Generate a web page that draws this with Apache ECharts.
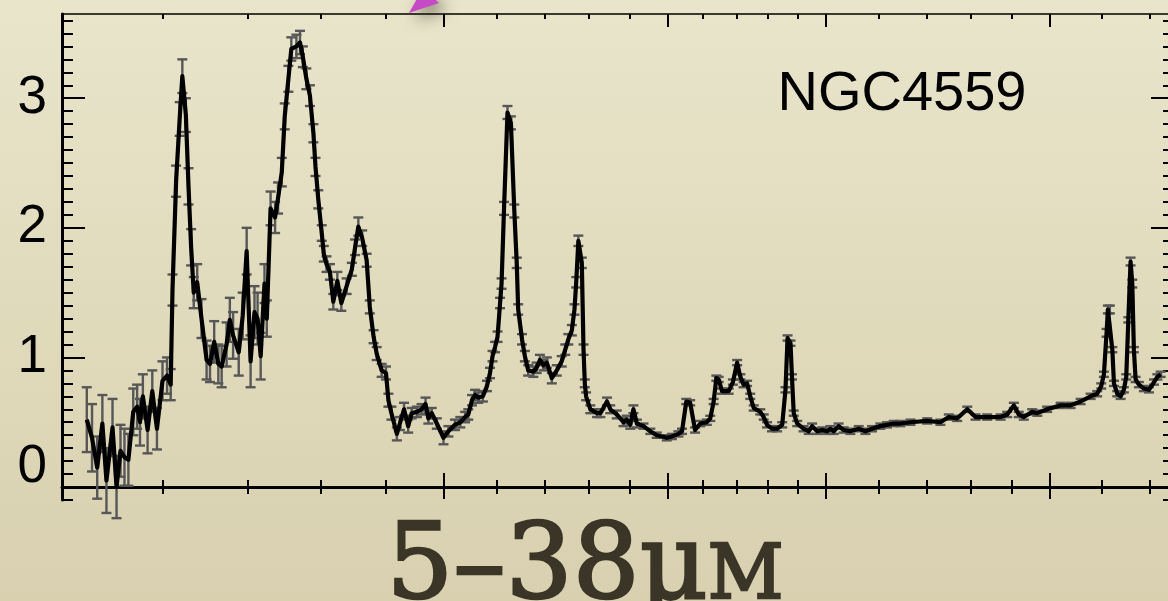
<!DOCTYPE html>
<html>
<head>
<meta charset="utf-8">
<script src="https://cdn.jsdelivr.net/npm/echarts@6/dist/echarts.min.js"></script>
<style>
  html, body { margin: 0; padding: 0; background: #e2ddc1; }
  #chart { width: 1168px; height: 601px; }
</style>
</head>
<body>
<div id="chart"></div>
<script>
// Mid-infrared spectrum of NGC4559 (wavelength in micron, flux in arbitrary units)
const wavelength = [
  5.23, 5.28, 5.33, 5.38, 5.42, 5.48, 5.52, 5.56, 5.60, 5.64,
  5.69, 5.73, 5.76, 5.79, 5.84, 5.89, 5.94, 6.00, 6.05, 6.09,
  6.11, 6.15, 6.19, 6.22, 6.26, 6.29, 6.32, 6.35, 6.39, 6.44,
  6.50, 6.54, 6.59, 6.64, 6.68, 6.74, 6.78, 6.82, 6.89, 6.94,
  6.99, 7.04, 7.09, 7.13, 7.17, 7.22, 7.25, 7.30, 7.36, 7.40,
  7.45, 7.49, 7.54, 7.58, 7.65, 7.70, 7.74, 7.79, 7.84, 7.89,
  7.92, 7.96, 8.01, 8.04, 8.08, 8.13, 8.18, 8.24, 8.30, 8.38,
  8.46, 8.51, 8.56, 8.62, 8.69, 8.74, 8.80, 8.85, 8.93, 9.00,
  9.04, 9.09, 9.18, 9.23, 9.30, 9.37, 9.43, 9.52, 9.60, 9.67,
  9.72, 9.78, 9.87, 9.99, 10.08, 10.20, 10.30, 10.39, 10.45, 10.52,
  10.58, 10.64, 10.73, 10.81, 10.87, 10.92, 10.97, 11.02, 11.07, 11.10,
  11.15, 11.22, 11.29, 11.36, 11.41, 11.44, 11.52, 11.58, 11.65, 11.76,
  11.83, 11.90, 11.98, 12.05, 12.16, 12.27, 12.38, 12.46, 12.53, 12.61,
  12.67, 12.71, 12.76, 12.84, 12.88, 12.91, 12.94, 13.04, 13.20, 13.28,
  13.44, 13.52, 13.68, 13.85, 13.93, 14.02, 14.10, 14.19, 14.36, 14.54,
  14.71, 14.98, 15.12, 15.30, 15.40, 15.52, 15.63, 15.77, 15.92, 16.11,
  16.21, 16.31, 16.39, 16.46, 16.56, 16.76, 16.89, 17.02, 17.12, 17.22,
  17.33, 17.43, 17.54, 17.75, 17.86, 17.97, 18.13, 18.30, 18.47, 18.58,
  18.65, 18.75, 18.80, 18.86, 18.98, 19.20, 19.38, 19.50, 19.68, 19.86,
  20.04, 20.16, 20.28, 20.46, 20.65, 20.90, 21.22, 21.48, 21.74, 22.07,
  22.34, 22.61, 22.89, 23.31, 24.03, 24.61, 24.99, 25.37, 25.84, 26.23,
  26.79, 27.45, 27.78, 28.12, 28.37, 28.63, 29.07, 29.34, 29.87, 30.61,
  31.17, 31.74, 32.32, 32.71, 32.95, 33.11, 33.27, 33.35, 33.47, 33.62,
  33.72, 33.92, 34.13, 34.33, 34.48, 34.61, 34.75, 34.86, 34.96, 35.07,
  35.28, 35.60, 35.93, 36.26, 36.48, 36.70
];

const flux = [
  0.52, 0.38, 0.15, 0.49, 0.05, 0.46, 0.00, 0.28, 0.23, 0.21,
  0.58, 0.62, 0.50, 0.70, 0.44, 0.74, 0.45, 0.82, 0.86, 0.79,
  1.52, 2.36, 2.84, 3.17, 2.87, 2.32, 1.85, 1.50, 1.58, 1.30,
  0.98, 0.95, 1.12, 0.95, 0.93, 1.10, 1.29, 1.17, 1.04, 1.32,
  1.82, 0.97, 1.35, 1.30, 1.01, 1.57, 1.30, 2.15, 2.08, 2.23,
  2.43, 2.86, 3.15, 3.38, 3.40, 3.43, 3.32, 3.15, 3.02, 2.73,
  2.47, 2.22, 1.96, 1.80, 1.72, 1.66, 1.43, 1.59, 1.42, 1.55,
  1.68, 1.85, 2.01, 1.92, 1.75, 1.39, 1.16, 1.03, 0.90, 0.88,
  0.67, 0.57, 0.41, 0.49, 0.60, 0.47, 0.57, 0.58, 0.60, 0.64,
  0.53, 0.57, 0.49, 0.38, 0.43, 0.48, 0.50, 0.54, 0.56, 0.67,
  0.71, 0.69, 0.70, 0.78, 0.88, 1.01, 1.08, 1.16, 1.42, 1.57,
  2.15, 2.89, 2.81, 2.13, 1.73, 1.37, 1.14, 1.01, 0.90, 0.89,
  0.92, 0.98, 0.94, 0.96, 0.84, 0.90, 0.97, 1.06, 1.14, 1.21,
  1.37, 1.58, 1.90, 1.73, 1.06, 0.80, 0.70, 0.60, 0.57, 0.57,
  0.66, 0.60, 0.56, 0.50, 0.52, 0.48, 0.60, 0.49, 0.47, 0.43,
  0.40, 0.38, 0.39, 0.41, 0.43, 0.66, 0.65, 0.44, 0.49, 0.50,
  0.53, 0.66, 0.84, 0.83, 0.74, 0.74, 0.81, 0.96, 0.85, 0.79,
  0.80, 0.70, 0.61, 0.58, 0.54, 0.48, 0.45, 0.45, 0.48, 0.75,
  1.15, 1.11, 0.85, 0.57, 0.49, 0.45, 0.43, 0.47, 0.43, 0.44,
  0.43, 0.45, 0.43, 0.47, 0.44, 0.43, 0.45, 0.43, 0.45, 0.47,
  0.48, 0.49, 0.49, 0.50, 0.51, 0.50, 0.54, 0.53, 0.60, 0.54,
  0.54, 0.54, 0.56, 0.63, 0.56, 0.54, 0.58, 0.57, 0.60, 0.63,
  0.63, 0.66, 0.70, 0.72, 0.78, 0.87, 1.19, 1.37, 1.37, 1.06,
  0.80, 0.72, 0.70, 0.75, 0.85, 1.29, 1.74, 1.57, 1.06, 0.83,
  0.79, 0.76, 0.75, 0.81, 0.85, 0.87
];

const fluxErr = [
  0.25, 0.26, 0.24, 0.22, 0.25, 0.22, 0.24, 0.20, 0.22, 0.20,
  0.18, 0.17, 0.18, 0.17, 0.18, 0.16, 0.16, 0.15, 0.14, 0.12,
  0.12, 0.12, 0.13, 0.13, 0.13, 0.14, 0.14, 0.12, 0.14, 0.15,
  0.15, 0.14, 0.16, 0.15, 0.16, 0.17, 0.17, 0.18, 0.18, 0.18,
  0.18, 0.20, 0.20, 0.20, 0.18, 0.15, 0.14, 0.13, 0.12, 0.12,
  0.11, 0.10, 0.10, 0.09, 0.09, 0.09, 0.08, 0.08, 0.08, 0.07,
  0.07, 0.07, 0.06, 0.06, 0.06, 0.06, 0.06, 0.07, 0.06, 0.06,
  0.05, 0.06, 0.07, 0.06, 0.05, 0.05, 0.05, 0.05, 0.05, 0.05,
  0.05, 0.05, 0.05, 0.05, 0.05, 0.05, 0.04, 0.04, 0.04, 0.05,
  0.04, 0.04, 0.04, 0.05, 0.04, 0.04, 0.04, 0.04, 0.04, 0.04,
  0.04, 0.04, 0.04, 0.04, 0.04, 0.04, 0.04, 0.04, 0.04, 0.04,
  0.05, 0.05, 0.05, 0.05, 0.04, 0.04, 0.04, 0.04, 0.04, 0.04,
  0.04, 0.04, 0.04, 0.04, 0.04, 0.04, 0.04, 0.04, 0.04, 0.04,
  0.04, 0.04, 0.04, 0.04, 0.04, 0.03, 0.03, 0.03, 0.03, 0.03,
  0.03, 0.03, 0.03, 0.03, 0.03, 0.03, 0.03, 0.03, 0.02, 0.02,
  0.02, 0.02, 0.02, 0.02, 0.02, 0.02, 0.02, 0.02, 0.02, 0.02,
  0.02, 0.02, 0.02, 0.02, 0.02, 0.02, 0.02, 0.02, 0.02, 0.02,
  0.02, 0.02, 0.02, 0.02, 0.02, 0.02, 0.02, 0.02, 0.02, 0.02,
  0.02, 0.02, 0.02, 0.02, 0.02, 0.02, 0.02, 0.02, 0.02, 0.02,
  0.02, 0.02, 0.02, 0.02, 0.02, 0.02, 0.02, 0.02, 0.02, 0.02,
  0.02, 0.02, 0.02, 0.02, 0.02, 0.02, 0.02, 0.02, 0.02, 0.02,
  0.02, 0.02, 0.02, 0.02, 0.02, 0.02, 0.02, 0.02, 0.02, 0.02,
  0.02, 0.02, 0.02, 0.02, 0.02, 0.02, 0.03, 0.03, 0.03, 0.02,
  0.02, 0.02, 0.02, 0.02, 0.02, 0.02, 0.03, 0.03, 0.02, 0.02,
  0.02, 0.02, 0.02, 0.02, 0.02, 0.02
];

// Wavelength tick marks (log axis) and flux tick labels
const xMajorTicks = [10, 15, 20, 30];
const xMinorTicks = [6, 7, 8, 9, 11, 12, 13, 14, 16, 17, 18, 19, 22, 24, 26, 28, 33, 36];
const yLabelValues = [0, 1, 2, 3];
const objectName = 'NGC4559';
const rangeTitle = ['5–38μ', 'm'];

const X_MIN = 5, X_MAX = 37.6;
const Y_MIN = -0.1, Y_MAX = 3.65;

// minor flux ticks every 0.1
const yMinorTicks = [];
for (let i = -1; i <= 36; i++) {
  if (i % 10 !== 0) yMinorTicks.push(+(i / 10).toFixed(1));
}

function xAxisDef(position, ticks, len, inside, showLine, lineWidth) {
  return {
    type: 'log', logBase: 10, min: X_MIN, max: X_MAX, position: position,
    axisLine: {
      show: showLine, onZero: position === 'bottom', onZeroAxisIndex: 0,
      lineStyle: { color: '#000', width: lineWidth }
    },
    axisTick: { show: true, inside: inside, length: len, customValues: ticks,
      lineStyle: { color: '#000', width: 2 } },
    axisLabel: { show: false },
    splitLine: { show: false },
    minorTick: { show: false },
    minorSplitLine: { show: false }
  };
}

function yAxisDef(position, ticks, len, showLine, withLabels) {
  return {
    type: 'value', min: Y_MIN, max: Y_MAX, position: position,
    axisLine: { show: showLine, onZero: false, lineStyle: { color: '#000', width: 3 } },
    axisTick: { show: true, inside: true, length: len, customValues: ticks,
      lineStyle: { color: '#000', width: 2 } },
    axisLabel: withLabels ? {
      show: true, customValues: yLabelValues, margin: 15,
      color: '#000', fontSize: 53, fontFamily: 'Liberation Sans, Arial, sans-serif',
      formatter: function (v) { return v === 0 ? '{z|0}' : String(v); },
      rich: { z: { fontSize: 53, fontFamily: 'Liberation Sans, Arial, sans-serif', color: '#000', padding: [0, 0, 40, 0] } }
    } : { show: false },
    splitLine: { show: false },
    minorTick: { show: false },
    minorSplitLine: { show: false }
  };
}

const spectrum = wavelength.map((w, i) => [w, flux[i]]);
const errorBars = wavelength.map((w, i) => [w, flux[i] - fluxErr[i], flux[i] + fluxErr[i]]);

const chart = echarts.init(document.getElementById('chart'), null, { renderer: 'canvas' });

const titleInk = '#3b3528';

const option = {
  animation: false,
  backgroundColor: new echarts.graphic.LinearGradient(0, 0, 0, 1, [
    { offset: 0, color: '#e9e5cb' },
    { offset: 0.5, color: '#e1dbbd' },
    { offset: 1, color: '#d8d0af' }
  ]),
  grid: { left: 62, top: 14, width: 1112, height: 486, containLabel: false, outerBoundsMode: 'none' },
  xAxis: [
    xAxisDef('bottom', xMinorTicks, 7, true, true, 3),
    xAxisDef('bottom', xMinorTicks, 7, false, false, 3),
    xAxisDef('bottom', xMajorTicks, 14, true, false, 3),
    xAxisDef('bottom', xMajorTicks, 12, false, false, 3),
    xAxisDef('top', xMinorTicks, 5, true, true, 1.5),
    xAxisDef('top', xMajorTicks, 13, true, false, 1.5)
  ],
  yAxis: [
    yAxisDef('left', yLabelValues, 23, true, true),
    yAxisDef('left', yMinorTicks, 11, false, false),
    yAxisDef('right', yLabelValues, 23, true, false),
    yAxisDef('right', yMinorTicks, 11, false, false)
  ],
  series: [
    {
      type: 'custom',
      xAxisIndex: 0, yAxisIndex: 0,
      data: errorBars,
      encode: { x: 0, y: [1, 2] },
      z: 2,
      renderItem: function (params, api) {
        const x = api.value(0);
        const lo = api.coord([x, api.value(1)]);
        const hi = api.coord([x, api.value(2)]);
        const hw = 5;
        const style = { stroke: '#575757', lineWidth: 2.4 };
        return {
          type: 'group',
          children: [
            { type: 'line', shape: { x1: lo[0], y1: lo[1], x2: hi[0], y2: hi[1] }, style: style },
            { type: 'line', shape: { x1: lo[0] - hw, y1: lo[1], x2: lo[0] + hw, y2: lo[1] }, style: style },
            { type: 'line', shape: { x1: hi[0] - hw, y1: hi[1], x2: hi[0] + hw, y2: hi[1] }, style: style }
          ]
        };
      }
    },
    {
      type: 'line',
      xAxisIndex: 0, yAxisIndex: 0,
      data: spectrum,
      showSymbol: false,
      symbol: 'none',
      z: 3,
      lineStyle: { color: '#000', width: 4.2, join: 'round' }
    }
  ],
  graphic: [
    {
      type: 'polygon',
      z: 10,
      shape: { points: [[409, 13], [439, 3], [423, -12]] },
      style: { fill: '#c64ac6', shadowBlur: 16, shadowColor: 'rgba(40,35,20,0.6)', shadowOffsetX: 6, shadowOffsetY: 6 }
    },
    {
      type: 'text',
      z: 10,
      x: 902, y: 95,
      style: {
        text: objectName,
        fill: '#000',
        fontSize: 56,
        fontFamily: 'Liberation Sans, Arial, sans-serif',
        align: 'center',
        verticalAlign: 'middle'
      }
    },
    {
      type: 'text',
      z: 10,
      x: 585, y: 571,
      style: {
        text: '{a|' + rangeTitle[0] + '}{b|' + rangeTitle[1] + '}',
        align: 'center',
        verticalAlign: 'middle',
        rich: {
          a: { fill: titleInk, stroke: titleInk, lineWidth: 2.5, fontSize: 105, fontFamily: 'DejaVu Serif', verticalAlign: 'bottom' },
          b: { fill: titleInk, stroke: titleInk, lineWidth: 2.5, fontSize: 105, fontFamily: 'DejaVu Serif', fontStyle: 'small-caps', verticalAlign: 'bottom' }
        }
      }
    }
  ]
};

chart.setOption(option);
</script>
</body>
</html>
